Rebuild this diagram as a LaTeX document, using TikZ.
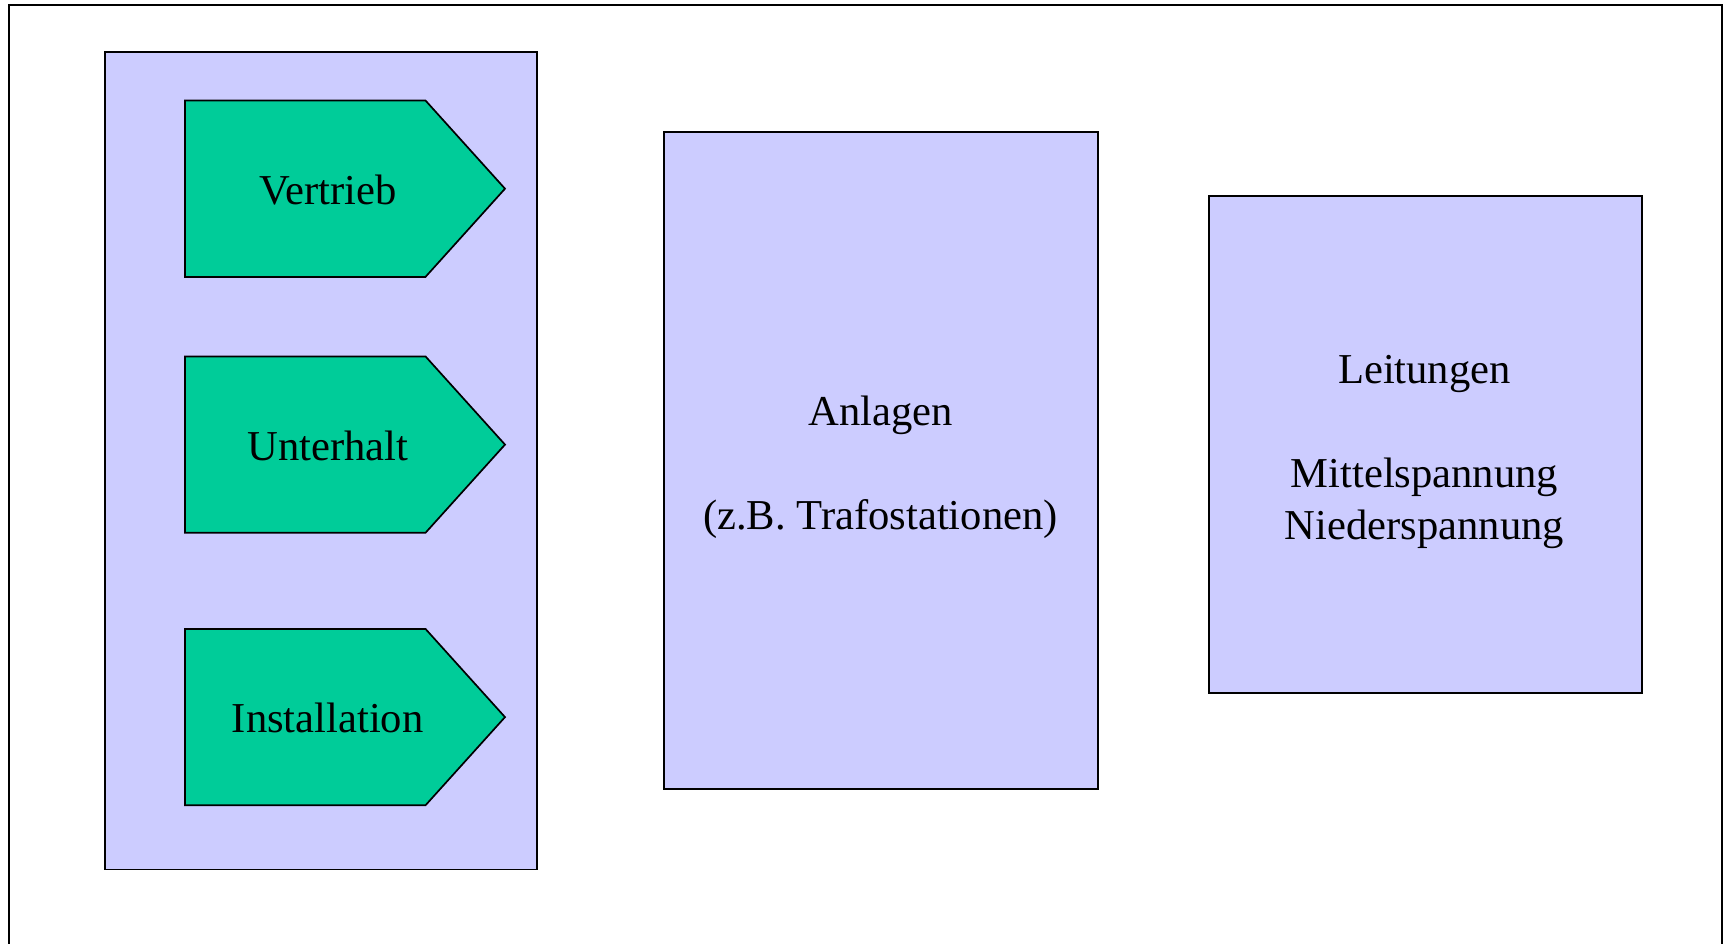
\documentclass[tikz,border=0pt]{standalone}
\usepackage{fontspec}
\setmainfont{Liberation Serif}
\begin{document}
\begin{tikzpicture}[x=1pt,y=-1pt,
  lilac/.style={fill={rgb,255:red,204;green,204;blue,255}, draw=black, line width=1.7pt},
  arrowbox/.style={fill={rgb,255:red,0;green,204;blue,153}, draw=black, line width=1.7pt, line join=miter},
  label/.style={font=\fontsize{42.6}{52}\selectfont, align=center, inner sep=0pt},
  stepname/.style={font=\fontsize{42.6}{52}\selectfont, anchor=base, inner sep=0pt}]
\useasboundingbox (0,0) rectangle (1730,944);
% outer frame, open at the bottom
\draw[line width=2pt] (9,944) -- (9,5) -- (1722,5) -- (1722,944);
% left panel holding the three process steps
\node[lilac, rectangle, minimum width=432.5pt, minimum height=817.5pt, inner sep=0pt] (panel) at (321,460.6) {};
% process steps as pentagon arrows
\foreach \n/\t/\y in {vertrieb/Vertrieb/100.5, unterhalt/Unterhalt/356.4, installation/Installation/628.9}{
  \draw[arrowbox] (185,\y) -- (425.5,\y) -- (505,\y+88.2) -- (425.5,\y+176.4) -- (185,\y+176.4) -- cycle;
  \node[stepname] (\n) at (327.7,\y+103.8) {\t};
}
% plant box
\node[lilac, rectangle, minimum width=433.6pt, minimum height=656.5pt, inner sep=0pt] (anlagen) at (881,460.6) {};
\node[label] (anlagentext) at (880.5,467.2) {Anlagen\\[52pt](z.B. Trafostationen)};
% lines box
\node[lilac, rectangle, minimum width=432.5pt, minimum height=496.5pt, inner sep=0pt] (leitungen) at (1425.5,444.6) {};
\node[label] (leitungentext) at (1424.4,452.3) {Leitungen\\[52pt]Mittelspannung\\Niederspannung};
\end{tikzpicture}
\end{document}
